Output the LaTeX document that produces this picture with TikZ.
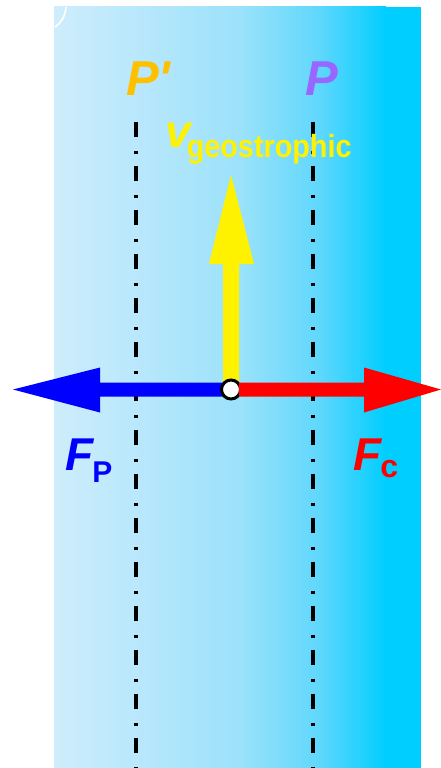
\documentclass[tikz,border=0pt]{standalone}
\usepackage{fontspec}
\setmainfont{Liberation Sans}[Ligatures=TeXOff]
\usetikzlibrary{calc}
\definecolor{cA}{RGB}{206,237,252}
\definecolor{cB}{RGB}{188,232,252}
\definecolor{cC}{RGB}{155,226,250}
\definecolor{cD}{RGB}{95,215,252}
\definecolor{cE}{RGB}{0,206,255}
\definecolor{porange}{RGB}{255,192,0}
\definecolor{ppurple}{RGB}{153,102,255}
\pgfdeclarehorizontalshading{bgshade}{100bp}{color(0bp)=(cA); color(25bp)=(cA); color(36bp)=(cB); color(53bp)=(cC); color(65bp)=(cD); color(75bp)=(cE); color(100bp)=(cE)}
\tikzset{
  pline/.style={line width=4pt, dash pattern=on 15pt off 14pt on 3pt off 12pt},
  lbl/.style={inner sep=0pt, anchor=base west, font=\bfseries\itshape},
}
\newcommand{\fs}[1]{\fontsize{#1}{#1}\selectfont}
\begin{document}
\begin{tikzpicture}[x=1pt,y=-1pt]
\useasboundingbox (0,0) rectangle (441,768);
% background
\fill[cE] (300,7) rectangle (421,768);
\shade[shading=bgshade] (54,7) rectangle (386,768);
\draw[white, line width=1.6pt] (66,7) .. controls (65,17) and (61,23) .. (55,27);
% pressure lines
\coordinate (L1) at (136,122); \coordinate (L2) at (136,768);
\coordinate (R1) at (313,122); \coordinate (R2) at (313,768);
\draw[pline] (L1) -- (L2);
\draw[pline] (R1) -- (R2);
% labels
\node[lbl, text=porange] (Pp) at (126,95) {\fs{49}P\char"27};
\node[lbl, text=ppurple] (P) at (305,95) {\fs{49}P};
\node[lbl, text=yellow] (v) at (165,147) {\fs{46}v\kern-4pt\raisebox{-10pt}{\upshape\fs{32}\scalebox{0.9}[1]{geostrophic}}};
\node[lbl, text=blue] (FP) at (65,470) {\fs{46}F\kern-1pt\raisebox{-12pt}{\upshape\fs{30}P}};
\node[lbl, text=red] (Fc) at (353,470) {\fs{46}F\kern-1pt\raisebox{-7pt}{\upshape\fs{32}c}};
% force arrows
\coordinate (O) at (231,389.5);
\fill[yellow] ($(O)+(-8,0)$) -- (223,264) -- (209,264) -- (231,175) -- (254,264) -- (239,264) -- ($(O)+(8,0)$) -- cycle;
\fill[blue] ($(O)+(0,-7)$) -- (100,382.5) -- (100,367.5) -- (13,389.5) -- (100,412.5) -- (100,396.5) -- ($(O)+(0,7)$) -- cycle;
\draw[line width=3pt, fill=white] (O) circle (9.5);
\fill[red] ($(O)+(8,-7)$) -- (364,382.5) -- (364,367.5) -- (441,389.5) -- (364,412.5) -- (364,396.5) -- ($(O)+(8,7)$) -- cycle;
\end{tikzpicture}
\end{document}
